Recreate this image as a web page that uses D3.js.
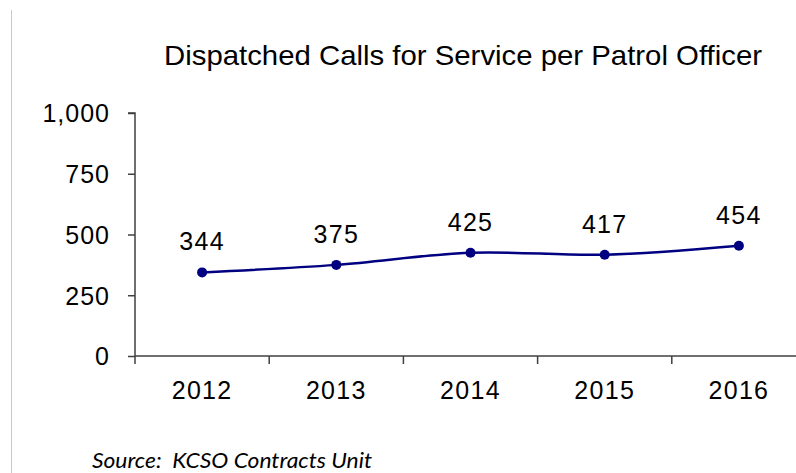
<!DOCTYPE html>
<html><head><meta charset="utf-8">
<script src="https://cdn.jsdelivr.net/npm/d3@7"></script>
<style>
html,body{margin:0;padding:0;background:#fff;}
svg{display:block;}
text{font-family:"Liberation Sans",Arial,sans-serif;fill:#000;}
</style></head>
<body>
<svg id="chart" width="796" height="473"></svg>
<script>
const years = ["2012","2013","2014","2015","2016"];
const calls = [344,375,425,417,454];
const yTicks = [0,250,500,750,1000];
const title = "Dispatched Calls for Service per Patrol Officer";
const source = "Source:  KCSO Contracts Unit";

(function(){
const svg = d3.select("#chart");
const mLeft = 135, mRight = 806, mTop = 113, mBottom = 356;
const numFont = {size:"25px", ls:"1.3px"};

// page border line
svg.append("line").attr("x1",11.5).attr("x2",11.5).attr("y1",10).attr("y2",473)
  .attr("stroke","#c8c8c8").attr("stroke-width",1);

const x = d3.scaleBand().domain(years).range([mLeft,mRight]);
const y = d3.scaleLinear().domain([0,1000]).range([mBottom,mTop]);

// title
svg.append("text").attr("x",463).attr("y",65).attr("text-anchor","middle")
  .style("font-size","28px").attr("textLength",598).attr("lengthAdjust","spacingAndGlyphs").text(title);

// y axis
const yAxis = svg.append("g").attr("transform",`translate(${mLeft},0)`)
  .call(d3.axisLeft(y).tickValues(yTicks).tickSize(7).tickPadding(18).tickFormat(d3.format(",")));
yAxis.selectAll("path,line").attr("stroke","#404040").attr("stroke-width",1.5);
yAxis.select(".domain").attr("d",`M-7,${mTop}H0V${mBottom}`);
yAxis.selectAll("text").style("font-size",numFont.size).style("letter-spacing","1px")
  .attr("font-family","Liberation Sans, Arial, sans-serif").attr("fill","#000").attr("dy","0.35em");

// x axis
const xAxis = svg.append("g").attr("transform",`translate(0,${mBottom})`)
  .call(d3.axisBottom(x).tickSize(0).tickPadding(25));
xAxis.select(".domain").attr("stroke","#404040").attr("stroke-width",1.5).attr("d",`M${mLeft},0H${mRight}`);
xAxis.selectAll("text").style("font-size",numFont.size).style("letter-spacing",numFont.ls)
  .attr("font-family","Liberation Sans, Arial, sans-serif").attr("fill","#000");
// category boundary ticks
const bounds = years.map(d => x(d));
svg.append("g").selectAll("line").data(bounds).join("line")
  .attr("x1",d=>d).attr("x2",d=>d).attr("y1",mBottom).attr("y2",mBottom+8)
  .attr("stroke","#404040").attr("stroke-width",1.5);

// line
const cx = d => x(d) + x.bandwidth()/2;
const line = d3.line().x((d,i)=>cx(years[i])).y(d=>y(d)).curve(d3.curveCatmullRom.alpha(0.5));
svg.append("path").datum(calls).attr("d",line).attr("fill","none")
  .attr("stroke","#000080").attr("stroke-width",2.5);
svg.append("g").selectAll("circle").data(calls).join("circle")
  .attr("cx",(d,i)=>cx(years[i])).attr("cy",d=>y(d)).attr("r",5).attr("fill","#000080");
svg.append("g").selectAll("text").data(calls).join("text")
  .attr("x",(d,i)=>cx(years[i])).attr("y",d=>y(d)-22).attr("text-anchor","middle")
  .style("font-size",numFont.size).style("letter-spacing",numFont.ls).text(d=>d);

// source
svg.append("text").attr("x",92).attr("y",468).attr("xml:space","preserve")
  .style("white-space","pre")
  .style("font-family","Lato, 'Open Sans', sans-serif").style("font-style","italic").style("font-size","21px")
  .attr("textLength",280).attr("lengthAdjust","spacingAndGlyphs").text(source);
})();
</script>
</body></html>
